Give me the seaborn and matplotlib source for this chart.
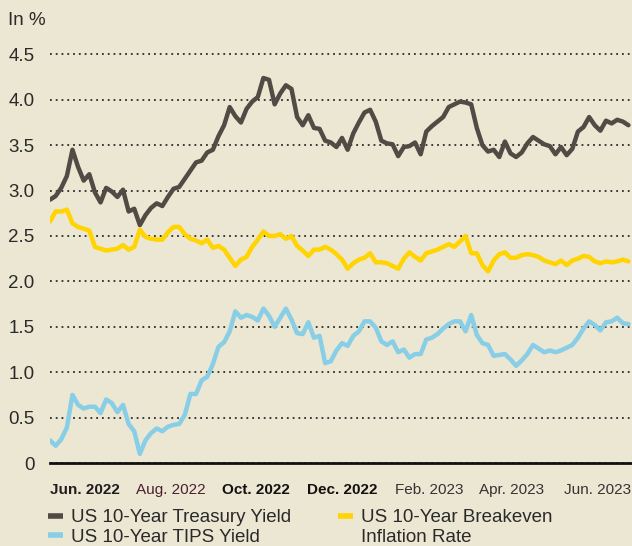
import numpy as np
import pandas as pd
import matplotlib
matplotlib.use("Agg")
import matplotlib.pyplot as plt
import seaborn as sns
from matplotlib.lines import Line2D

# ---------------- data ----------------
start_date = "2022-05-21"
step_days = 4

treasury = [2.90, 2.94, 3.03, 3.16, 3.45, 3.26, 3.11, 3.18, 2.98, 2.87,
            3.03, 2.99, 2.93, 3.01, 2.77, 2.80, 2.62, 2.73, 2.81, 2.86,
            2.83, 2.93, 3.02, 3.04, 3.13, 3.22, 3.31, 3.33, 3.42, 3.45,
            3.60, 3.72, 3.92, 3.82, 3.75, 3.90, 3.98, 4.03, 4.24, 4.22,
            3.95, 4.07, 4.16, 4.12, 3.81, 3.72, 3.83, 3.69, 3.68, 3.55,
            3.53, 3.48, 3.58, 3.45, 3.63, 3.75, 3.86, 3.89, 3.76, 3.55,
            3.52, 3.51, 3.38, 3.48, 3.49, 3.53, 3.40, 3.65, 3.71, 3.76,
            3.81, 3.92, 3.95, 3.98, 3.97, 3.95, 3.69, 3.50, 3.43, 3.45,
            3.37, 3.54, 3.41, 3.37, 3.42, 3.52, 3.59, 3.55, 3.51, 3.49,
            3.40, 3.48, 3.39, 3.46, 3.65, 3.70, 3.81, 3.72, 3.66, 3.77,
            3.74, 3.78, 3.76, 3.72]

breakeven = [2.66, 2.77, 2.77, 2.79, 2.64, 2.60, 2.58, 2.56, 2.38, 2.36,
             2.34, 2.35, 2.36, 2.40, 2.35, 2.38, 2.57, 2.49, 2.47, 2.46,
             2.46, 2.54, 2.60, 2.60, 2.52, 2.47, 2.45, 2.42, 2.46, 2.37,
             2.39, 2.35, 2.26, 2.17, 2.24, 2.27, 2.38, 2.46, 2.55, 2.50,
             2.50, 2.52, 2.47, 2.50, 2.39, 2.34, 2.28, 2.35, 2.35, 2.38,
             2.35, 2.30, 2.24, 2.14, 2.20, 2.24, 2.26, 2.31, 2.21, 2.21,
             2.20, 2.17, 2.14, 2.25, 2.32, 2.27, 2.23, 2.31, 2.33, 2.35,
             2.38, 2.41, 2.38, 2.44, 2.50, 2.31, 2.31, 2.18, 2.11, 2.23,
             2.30, 2.32, 2.26, 2.26, 2.29, 2.30, 2.29, 2.27, 2.23, 2.21,
             2.19, 2.23, 2.18, 2.23, 2.25, 2.28, 2.27, 2.22, 2.20, 2.22,
             2.21, 2.22, 2.24, 2.22]

tips = [0.25, 0.19, 0.26, 0.39, 0.75, 0.64, 0.60, 0.62, 0.62, 0.55,
        0.70, 0.66, 0.56, 0.64, 0.43, 0.35, 0.10, 0.25, 0.33, 0.38,
        0.35, 0.40, 0.42, 0.43, 0.53, 0.76, 0.76, 0.91, 0.95, 1.09,
        1.28, 1.33, 1.45, 1.67, 1.60, 1.63, 1.61, 1.57, 1.70, 1.62,
        1.50, 1.60, 1.70, 1.58, 1.43, 1.42, 1.55, 1.38, 1.40, 1.10,
        1.12, 1.24, 1.32, 1.29, 1.40, 1.45, 1.56, 1.56, 1.49, 1.34,
        1.30, 1.34, 1.22, 1.25, 1.16, 1.20, 1.20, 1.36, 1.38, 1.42,
        1.48, 1.53, 1.56, 1.56, 1.45, 1.63, 1.41, 1.32, 1.30, 1.18,
        1.19, 1.20, 1.14, 1.07, 1.13, 1.20, 1.30, 1.26, 1.22, 1.24,
        1.22, 1.24, 1.27, 1.30, 1.38, 1.48, 1.56, 1.52, 1.46, 1.55,
        1.56, 1.60, 1.54, 1.53]

series_names = ["US 10-Year Treasury Yield",
                "US 10-Year Breakeven",
                "US 10-Year TIPS Yield"]
breakeven_label_line2 = "Inflation Rate"
series_colors = ["#524a45", "#ffd400", "#87cee6"]

y_ticks = [0, 0.5, 1.0, 1.5, 2.0, 2.5, 3.0, 3.5, 4.0, 4.5]
y_tick_labels = ["0", "0.5", "1.0", "1.5", "2.0", "2.5", "3.0", "3.5", "4.0", "4.5"]
x_tick_dates = ["2022-06-15", "2022-08-15", "2022-10-15", "2022-12-15",
                "2023-02-15", "2023-04-15", "2023-06-15"]
x_tick_labels = ["Jun. 2022", "Aug. 2022", "Oct. 2022", "Dec. 2022",
                 "Feb. 2023", "Apr. 2023", "Jun. 2023"]
unit_label = "In %"

# ---------------- build frame ----------------
dates = pd.date_range(start_date, periods=len(treasury), freq=f"{step_days}D")
df = pd.DataFrame({
    "date": np.tile(dates, 3),
    "value": treasury + breakeven + tips,
    "series": np.repeat(series_names, len(dates)),
})

# ---------------- style ----------------
bg = "#ece7d2"
sns.set_theme(style="white")
plt.rcParams["font.family"] = ["Liberation Sans", "DejaVu Sans"]

W, H = 632, 546
fig = plt.figure(figsize=(W / 100, H / 100), dpi=100, facecolor=bg)
ax_top_px, ax_bot_px, ax_left_px = 40, 463, 50
ax = fig.add_axes([ax_left_px / W, 1 - ax_bot_px / H,
                   (W - ax_left_px) / W, (ax_bot_px - ax_top_px) / H])
ax.set_facecolor(bg)

sns.lineplot(data=df, x="date", y="value", hue="series",
             hue_order=series_names, palette=series_colors,
             linewidth=3.2, ax=ax, legend=False)

px_per_unit = 90.8
ax.set_ylim(0, (ax_bot_px - ax_top_px) / px_per_unit)
x0 = pd.Timestamp(start_date)
ax.set_xlim(x0, x0 + pd.Timedelta(days=(W - ax_left_px) / 1.404))

ax.set_yticks(y_ticks)
ax.set_yticklabels(y_tick_labels, fontsize=13.5, color="#2a2a2a")
ax.set_xticks(pd.to_datetime(x_tick_dates))
ax.set_xticklabels(x_tick_labels, fontsize=11)
styles = [("bold", "#1e1e1e"), ("normal", "#4a2030"), ("bold", "#111111"),
          ("bold", "#111111"), ("normal", "#333333"), ("normal", "#333333"),
          ("normal", "#333333")]
for lab, (w, c) in zip(ax.get_xticklabels(), styles):
    lab.set_fontweight(w)
    lab.set_color(c)

ax.set_xlabel("")
ax.set_ylabel("")
ax.tick_params(axis="both", length=0)
ax.tick_params(axis="y", pad=11)
ax.tick_params(axis="x", pad=14.5)

ax.yaxis.grid(True, linestyle=(0, (1, 2.2)), color="#2a2a2a", linewidth=1.3)
ax.xaxis.grid(False)
ax.set_axisbelow(True)
for s in ["top", "right", "left"]:
    ax.spines[s].set_visible(False)
ax.spines["bottom"].set_color("#111111")
ax.spines["bottom"].set_linewidth(2.0)
ax.spines["bottom"].set_zorder(5)

fig.text(8 / W, 1 - 25 / H, unit_label, fontsize=13.5, color="#2a2a2a",
         ha="left", va="baseline")

# legend: column 1 = Treasury, TIPS ; column 2 = Breakeven, (2nd line)
handles = [Line2D([], [], color=series_colors[0], lw=4, solid_capstyle="butt"),
           Line2D([], [], color=series_colors[2], lw=4, solid_capstyle="butt"),
           Line2D([], [], color=series_colors[1], lw=4, solid_capstyle="butt"),
           Line2D([], [], color="none", lw=0)]
labels = [series_names[0], series_names[2], series_names[1], breakeven_label_line2]
leg = fig.legend(handles, labels, loc="upper left",
                 bbox_to_anchor=(48 / W, 1 - 509 / H), ncol=2,
                 frameon=False, fontsize=13.5, handlelength=0.8,
                 handletextpad=0.45, columnspacing=2.45, labelspacing=0.12,
                 borderpad=0, borderaxespad=0)
for t in leg.get_texts():
    t.set_color("#2a2a2a")

fig.savefig("out.png", dpi=100, facecolor=bg)
